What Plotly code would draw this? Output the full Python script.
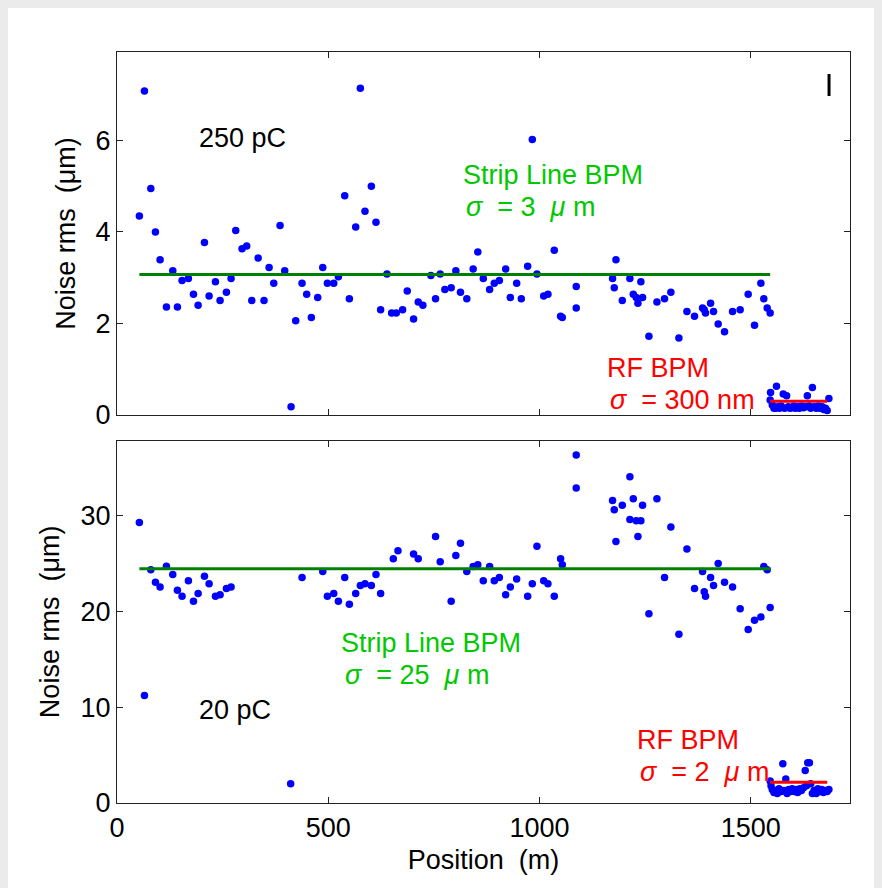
import plotly.graph_objects as go
from plotly.subplots import make_subplots

# ---------------- data ----------------
top_strip_x = [53,65,80,91,102,117,132,143,154,169,181,192,207,218,233,244,259,270,281,296,
               307,319,334,348,360,371,386,397,412,423,438,449,460,475,487,498,513,524,539,550,
               565,576,587,602,613,624,639,650,661,676,687,702,713,724,743,754,765,776,791,802,
               813,828,843,854,867,882,893,905,920,931,946,957,972,983,994,1010,1020,1035,1050,1054,
               1087,1087,1173,1177,1181,1196,1214,1222,1229,1233,1240,1244,1259,1278,1296,1311,1330,1349,1367,1386,
               1390,1393,1405,1412,1423,1438,1457,1475,1494,1509,1524,1531,1539,1546]
top_strip_y = [4.35,7.08,4.95,4.00,3.39,2.36,3.15,2.36,2.94,2.98,2.64,2.40,3.77,2.60,2.91,2.50,2.68,2.98,4.03,3.63,
               3.69,2.50,3.43,2.50,3.22,2.88,4.14,3.15,0.18,2.06,2.88,2.64,2.13,2.57,3.22,2.88,2.88,3.02,4.79,2.54,
               4.11,7.14,4.45,5.00,4.21,2.30,3.08,2.23,2.23,2.30,2.71,2.10,2.47,2.40,3.05,2.54,3.08,2.74,2.78,3.15,
               2.68,2.54,3.19,3.56,2.98,2.74,2.88,2.94,3.19,2.57,2.88,2.54,3.25,6.02,3.08,2.60,2.64,3.60,2.16,2.13,
               2.81,2.34,2.98,2.78,3.39,2.50,2.98,2.64,2.57,2.44,2.91,2.57,1.72,2.47,2.54,2.68,1.68,2.26,2.16,2.34,
               2.30,2.23,2.44,2.26,1.99,1.82,2.26,2.30,2.64,1.96,2.88,2.54,2.34,2.23]

top_rf_x = [1546,1547,1551,1555,1559,1561,1564,1568,1572,1577,1580,1585,1589,1593,1598,1602,1606,1611,
            1615,1620,1625,1629,1634,1638,1642,1646,1650,1655,1660,1664,1669,1673,1677,1681,1685]
top_rf_y = [0.33,0.49,0.22,0.15,0.15,0.63,0.18,0.15,0.20,0.46,0.15,0.42,0.18,0.15,0.16,0.20,0.15,0.18,
            0.15,0.20,0.16,0.18,0.42,0.20,0.15,0.60,0.18,0.15,0.20,0.15,0.18,0.12,0.15,0.10,0.36]

bot_strip_x = [53,65,80,91,102,117,132,143,154,169,181,192,207,218,233,244,259,270,411,438,
               487,498,513,524,539,550,565,576,587,602,613,624,654,665,702,713,754,765,791,802,
               813,828,843,854,867,882,893,905,920,931,946,972,983,994,1010,1020,1035,1050,1054,1087,
               1087,1173,1177,1181,1196,1214,1214,1222,1229,1233,1240,1244,1259,1278,1296,1311,1330,1349,1367,1386,
               1390,1393,1405,1412,1423,1438,1457,1475,1494,1509,1524,1531,1539,1546]
bot_strip_y = [29.27,11.21,24.33,23.04,22.55,24.71,23.84,22.21,21.58,23.18,21.06,21.86,23.67,22.87,21.58,21.72,22.38,22.55,2.02,23.53,
               24.16,21.58,21.86,21.06,23.53,20.74,21.86,22.69,22.87,22.69,23.84,21.86,25.48,26.31,25.97,25.48,27.81,25.17,21.06,25.83,
               27.11,24.16,24.68,24.85,23.18,24.68,23.18,23.53,21.72,22.55,23.36,21.58,22.87,26.80,23.18,22.87,21.58,25.48,24.85,36.30,
               32.86,31.57,30.59,27.29,31.08,34.04,29.59,31.74,29.45,27.81,29.45,31.08,19.74,31.74,23.53,28.79,17.61,26.49,22.38,24.16,
               22.03,21.58,23.53,22.69,24.99,23.04,22.55,20.26,18.10,19.07,19.42,24.68,24.33,20.40]

bot_rf_x = [1546,1548,1551,1555,1559,1563,1567,1572,1576,1579,1583,1586,1590,1594,1598,1603,1607,1611,
            1616,1620,1625,1629,1632,1635,1639,1642,1646,1650,1655,1659,1663,1668,1672,1677,1681,1685]
bot_rf_y = [2.3,1.8,1.4,1.1,1.3,1.0,1.5,1.2,4.1,1.3,2.5,1.0,1.4,1.2,1.5,1.2,1.4,1.1,
            1.5,1.3,1.6,3.4,1.8,4.2,4.2,2.0,1.0,1.3,1.0,1.5,1.2,1.4,1.1,1.3,1.2,1.4]

strip_span = [53, 1546]
rf_span = [1546, 1681]
top_strip_mean = 3.07
top_rf_mean = 0.30
bot_strip_mean = 24.43
bot_rf_mean = 2.16

x_ticks = [0, 500, 1000, 1500]

# ---------------- figure ----------------
BLUE = "#0000ff"
DGREEN = "#008000"
LGREEN = "#00c800"
RED = "#ff0000"
FONT = "Liberation Sans, Arial, sans-serif"
FS = 27

fig = make_subplots(rows=2, cols=1, shared_xaxes=False, vertical_spacing=0.0342)

def add_panel(row, sx, sy, rx, ry, smean, rmean):
    fig.add_trace(go.Scatter(x=sx, y=sy, mode="markers",
                             marker=dict(color=BLUE, size=7.5, line=dict(width=0)),
                             showlegend=False, hoverinfo="skip"), row=row, col=1)
    fig.add_trace(go.Scatter(x=rx, y=ry, mode="markers",
                             marker=dict(color=BLUE, size=7.5, line=dict(width=0)),
                             showlegend=False, hoverinfo="skip"), row=row, col=1)
    fig.add_trace(go.Scatter(x=strip_span, y=[smean, smean], mode="lines",
                             line=dict(color=DGREEN, width=3),
                             showlegend=False, hoverinfo="skip"), row=row, col=1)
    fig.add_trace(go.Scatter(x=rf_span, y=[rmean, rmean], mode="lines",
                             line=dict(color=RED, width=3),
                             showlegend=False, hoverinfo="skip"), row=row, col=1)

add_panel(1, top_strip_x, top_strip_y, top_rf_x, top_rf_y, top_strip_mean, top_rf_mean)
add_panel(2, bot_strip_x, bot_strip_y, bot_rf_x, bot_rf_y, bot_strip_mean, bot_rf_mean)

axis_common = dict(showline=True, linecolor="#222222", linewidth=1.2, mirror="ticks",
                   ticks="inside", ticklen=6, tickwidth=1, tickcolor="#222222",
                   showgrid=False, zeroline=False,
                   tickfont=dict(family=FONT, size=FS, color="black"))

fig.update_xaxes(range=[0, 1735], tickvals=x_ticks, **axis_common)
fig.update_xaxes(showticklabels=False, row=1, col=1)
fig.update_xaxes(title=dict(text="Position  (m)", font=dict(family=FONT, size=FS, color="black"),
                            standoff=8), row=2, col=1)
fig.update_yaxes(**axis_common)
fig.update_yaxes(range=[0, 7.93], tickvals=[0, 2, 4, 6], row=1, col=1,
                 title=dict(text="Noise rms  (μm)", font=dict(family=FONT, size=FS, color="black"), standoff=12))
fig.update_yaxes(range=[0, 37.8], tickvals=[0, 10, 20, 30], row=2, col=1,
                 title=dict(text="Noise rms  (μm)", font=dict(family=FONT, size=FS, color="black"), standoff=12))

fig.update_layout(yaxis=dict(domain=[0.5166, 1.0]), yaxis2=dict(domain=[0.0, 0.4824]))

NB = "\u00a0"
def ann(x, y, text, color, xref, yref):
    fig.add_annotation(x=x, y=y, xref=xref, yref=yref, text=text, showarrow=False,
                       xanchor="left", yanchor="middle",
                       font=dict(family=FONT, size=FS, color=color))

ann(190, 6.05, "250 pC", "black", "x", "y")
ann(814, 5.25, "Strip Line BPM", LGREEN, "x", "y")
ann(822, 4.55, f"<i>σ</i>{NB}{NB}= 3{NB}{NB}<i>μ</i>{NB}m", LGREEN, "x", "y")
ann(1155, 1.03, "RF BPM", RED, "x", "y")
ann(1163, 0.33, f"<i>σ</i>{NB}{NB}= 300 nm", RED, "x", "y")

ann(526, 16.7, "Strip Line BPM", LGREEN, "x2", "y2")
ann(534, 13.4, f"<i>σ</i>{NB}{NB}= 25{NB}{NB}<i>μ</i>{NB}m", LGREEN, "x2", "y2")
ann(190, 9.72, "20 pC", "black", "x2", "y2")
ann(1226, 6.6, "RF BPM", RED, "x2", "y2")
ann(1234, 3.26, f"<i>σ</i>{NB}{NB}= 2{NB}{NB}<i>μ</i>{NB}m", RED, "x2", "y2")

# small black mark at top right
fig.add_shape(type="line", xref="paper", yref="paper",
              x0=0.9714, x1=0.9714, y0=0.9414, y1=0.9707,
              line=dict(color="black", width=3))

fig.update_layout(width=882, height=888,
                  margin=dict(l=109, r=40, t=44, b=93),
                  paper_bgcolor="white", plot_bgcolor="white",
                  font=dict(family=FONT, size=FS, color="black"))

fig.write_html("out.html", post_script="document.body.style.background='#ebebeb';")
